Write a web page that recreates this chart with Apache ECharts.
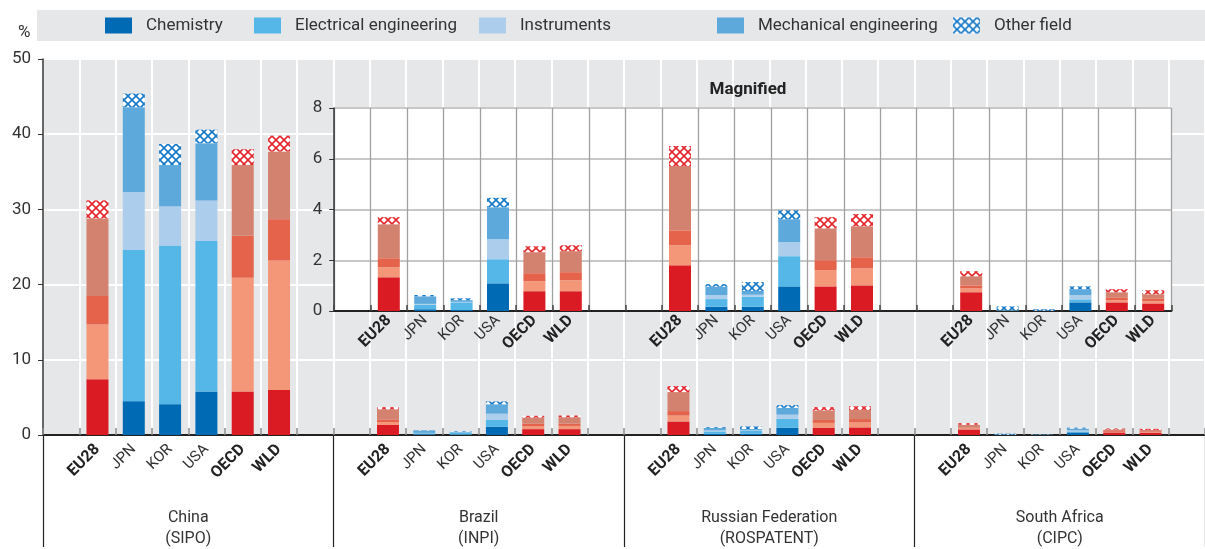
<!DOCTYPE html>
<html>
<head>
<meta charset="utf-8">
<script src="https://cdn.jsdelivr.net/npm/echarts@6/dist/echarts.min.js"></script>
<style>
  html, body { margin: 0; padding: 0; background: #fff; }
  #chart { width: 1205px; height: 549px; }
</style>
</head>
<body>
<div id="chart"></div>
<script>
// Patent filings by field of technology, share by office (%)
const offices = ['China\n(SIPO)', 'Brazil\n(INPI)', 'Russian Federation\n(ROSPATENT)', 'South Africa\n(CIPC)'];
const origins = ['EU28', 'JPN', 'KOR', 'USA', 'OECD', 'WLD'];
const aggregates = ['EU28', 'OECD', 'WLD'];
const fields = ['Chemistry', 'Electrical engineering', 'Instruments', 'Mechanical engineering', 'Other field'];

// values per office, origins in the order above
const chemistry   = [7.4, 4.5, 4.1, 5.8, 5.8, 6.0,   1.33, 0.07, 0.04, 1.09, 0.78, 0.78,   1.80, 0.17, 0.17, 0.97, 0.97, 1.01,   0.74, 0.00, 0.00, 0.34, 0.34, 0.30];
const electrical  = [7.3, 20.1, 21.1, 20.0, 15.1, 17.2,   0.39, 0.17, 0.30, 0.95, 0.39, 0.43,   0.79, 0.30, 0.39, 1.19, 0.64, 0.67,   0.15, 0.02, 0.01, 0.12, 0.08, 0.08];
const instruments = [3.8, 7.7, 5.2, 5.4, 5.6, 5.5,   0.36, 0.04, 0.02, 0.79, 0.32, 0.32,   0.59, 0.16, 0.08, 0.55, 0.39, 0.44,   0.12, 0.00, 0.00, 0.16, 0.12, 0.12];
const mechanical  = [10.3, 11.3, 5.5, 7.6, 9.4, 9.0,   1.34, 0.30, 0.07, 1.26, 0.83, 0.83,   2.53, 0.33, 0.15, 0.91, 1.26, 1.22,   0.36, 0.01, 0.00, 0.24, 0.20, 0.16];
const other       = [2.4, 1.8, 2.8, 1.8, 2.1, 2.1,   0.28, 0.05, 0.07, 0.37, 0.23, 0.23,   0.79, 0.10, 0.35, 0.35, 0.44, 0.48,   0.20, 0.15, 0.06, 0.11, 0.12, 0.16];

const mainTicks = [0, 10, 20, 30, 40, 50];
const insetTicks = [0, 2, 4, 6, 8];

const FONT = 'Roboto, "Liberation Sans", sans-serif';
const TEXT = '#333333';

function hatch(color) {
  const c = document.createElement('canvas');
  c.width = 8; c.height = 8;
  const g = c.getContext('2d');
  g.fillStyle = '#ffffff';
  g.fillRect(0, 0, 8, 8);
  g.strokeStyle = color;
  g.lineWidth = 1.6;
  g.beginPath();
  g.moveTo(-1, -1); g.lineTo(9, 9);
  g.moveTo(9, -1); g.lineTo(-1, 9);
  g.stroke();
  return { image: c, repeat: 'repeat' };
}

const blue = ['#006ab5', '#54b7e7', '#accdeb', '#5da9dc', hatch('#1478c8')];
const red  = ['#da1b23', '#f49678', '#e4634a', '#d48270', hatch('#e3262b')];
const values = [chemistry, electrical, instruments, mechanical, other];

// slots: a blank slot on each side of every office's six origins
const slots = [];
offices.forEach((o, gi) => {
  slots.push(gi + '|_a');
  origins.forEach(c => slots.push(gi + '|' + c));
  slots.push(gi + '|_b');
});
const insetSlots = slots.slice(8, 31);

function dataFor(fi, list) {
  return list.map(key => {
    const [gi, c] = key.split('|');
    const ci = origins.indexOf(c);
    if (ci < 0) return '-';
    const v = values[fi][Number(gi) * 6 + ci];
    return aggregates.includes(c) ? { value: v, itemStyle: { color: red[fi] } } : v;
  });
}

const labelRich = {
  b: { fontFamily: FONT, fontWeight: 'bold', fontSize: 16, color: '#222' },
  n: { fontFamily: FONT, fontSize: 15, color: '#333' }
};
function originLabel(key) {
  const c = key.split('|')[1];
  if (c.startsWith('_')) return '';
  return aggregates.includes(c) ? '{b|' + c + '}' : '{n|' + c + '}';
}

const series = [];
fields.forEach((f, fi) => {
  series.push({
    name: f, type: 'bar', stack: 'main', xAxisIndex: 0, yAxisIndex: 0,
    barWidth: 22, itemStyle: { color: blue[fi] }, z: 2,
    data: dataFor(fi, slots)
  });
});
fields.forEach((f, fi) => {
  series.push({
    name: f, type: 'bar', stack: 'inset', xAxisIndex: 2, yAxisIndex: 1,
    barWidth: 22, itemStyle: { color: blue[fi] }, z: 5,
    data: dataFor(fi, insetSlots)
  });
});

// one legend entry per field, placed along the band
const legendLeft = [105, 254, 479, 717, 953];
const legends = fields.map((f, i) => ({
  data: [f], left: legendLeft[i], top: 17, icon: 'rect',
  itemWidth: 27, itemHeight: 16, padding: 0, selectedMode: false,
  textStyle: { fontFamily: FONT, fontSize: 17, color: TEXT, padding: [0, 0, 0, 9] }
}));

const chart = echarts.init(document.getElementById('chart'), null, { renderer: 'canvas' });
chart.setOption({
  animation: false,
  textStyle: { fontFamily: FONT, color: TEXT },
  title: [
    { text: '%', left: 13, top: 19, textStyle: { fontFamily: FONT, fontSize: 17, fontWeight: 'normal', color: TEXT } },
    { text: 'Magnified', left: 743, textAlign: 'center', top: 76, textStyle: { fontFamily: FONT, fontSize: 17, fontWeight: 'bold', color: '#222' } }
  ],
  graphic: [
    { type: 'rect', left: 37, top: 10, shape: { width: 1168, height: 31 }, style: { fill: '#e6e7e9' }, z: -1 }
  ],
  legend: legends,
  grid: [
    { left: 43, top: 59, width: 1165, height: 378, show: true, backgroundColor: '#e6e7e9', borderWidth: 0, z: 0 },
    { left: 334.2, top: 108, width: 837.2, height: 203, show: true, backgroundColor: '#ffffff', borderWidth: 0, z: 1 }
  ],
  xAxis: [
    {
      type: 'category', gridIndex: 0, data: slots, z: 0,
      axisLine: { lineStyle: { color: '#222', width: 2 } },
      axisTick: { show: true, inside: true, length: 7, interval: 0, lineStyle: { color: '#8a8a8a', width: 1.5 } },
      splitLine: { show: true, interval: 0, lineStyle: { color: '#ffffff', width: 2 } },
      axisLabel: { interval: 0, rotate: 45, margin: 12, formatter: originLabel, rich: labelRich }
    },
    {
      type: 'category', gridIndex: 0, data: offices, position: 'bottom', z: 0,
      axisLine: { show: false },
      axisTick: { show: true, length: 112, interval: 0, lineStyle: { color: '#222', width: 1.2 } },
      axisLabel: { interval: 0, margin: 72, fontFamily: FONT, fontSize: 16, lineHeight: 21, color: TEXT }
    },
    {
      type: 'category', gridIndex: 1, data: insetSlots, z: 2,
      axisLine: { lineStyle: { color: '#222', width: 2 } },
      axisTick: { show: true, inside: true, length: 6, interval: 0, lineStyle: { color: '#444', width: 1.5 } },
      splitLine: { show: true, interval: 0, lineStyle: { color: '#a0a0a0', width: 1.3 } },
      axisLabel: { interval: 0, rotate: 45, margin: 7, formatter: originLabel, rich: labelRich }
    }
  ],
  yAxis: [
    {
      type: 'value', gridIndex: 0, min: mainTicks[0], max: mainTicks[mainTicks.length - 1], interval: 10, z: 0,
      axisLine: { show: true, lineStyle: { color: '#333', width: 1.5 } },
      axisTick: { show: true, length: 5, lineStyle: { color: '#333' } },
      splitLine: { show: true, lineStyle: { color: '#ffffff', width: 2 } },
      axisLabel: { fontFamily: FONT, fontSize: 17, color: TEXT, margin: 12 }
    },
    {
      type: 'value', gridIndex: 1, min: insetTicks[0], max: insetTicks[insetTicks.length - 1], interval: 2, z: 2,
      axisLine: { show: true, lineStyle: { color: '#333', width: 1.5 } },
      axisTick: { show: true, length: 5, lineStyle: { color: '#333' } },
      splitLine: { show: true, lineStyle: { color: '#c8c8c8', width: 2 } },
      axisLabel: { fontFamily: FONT, fontSize: 17, color: TEXT, margin: 12 }
    }
  ],
  series: series
});
</script>
</body>
</html>
